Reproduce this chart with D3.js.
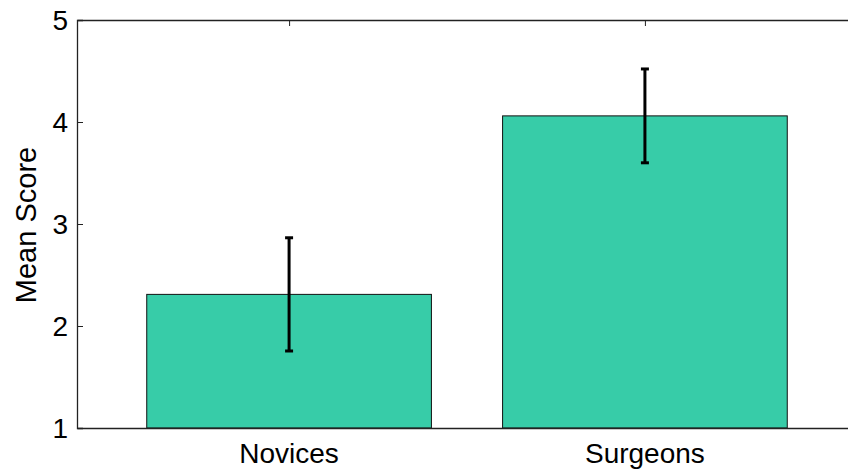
<!DOCTYPE html>
<html>
<head>
<meta charset="utf-8">
<script src="https://cdn.jsdelivr.net/npm/d3@7/dist/d3.min.js"></script>
<style>
  html, body { margin: 0; padding: 0; background: #fff; }
  svg { display: block; }
  text { font-family: "Liberation Sans", Arial, sans-serif; fill: #000; }
</style>
</head>
<body>
<svg id="chart" width="848" height="470"></svg>
<script>
// Mean score per group with error bar half-widths
const groups = ["Novices", "Surgeons"];
const means = [2.31, 4.06];
const errors = [0.555, 0.46];
const yTicks = [1, 2, 3, 4, 5];
const yLabel = "Mean Score";

const width = 848, height = 470;
const margin = { left: 77, top: 20, bottom: 42 };
const plotRight = 857; // axes box runs slightly past the window edge

const svg = d3.select("#chart");

// x positions in category units; limits give the wide outer gaps
const x = d3.scaleLinear().domain([0.404, 2.596]).range([margin.left, plotRight]);
const y = d3.scaleLinear().domain([1, 5]).range([height - margin.bottom, margin.top]);
const barWidth = 0.8;
const axisColor = "#222";

// top line with inward ticks at category centres
const xAxisTop = d3.axisBottom(x).tickValues([1, 2]).tickSize(6).tickFormat("").tickSizeOuter(0);
const gt = svg.append("g").attr("transform", `translate(0,${y(5)})`).call(xAxisTop);
gt.select(".domain").attr("stroke", axisColor).attr("stroke-width", 1.6);
gt.selectAll(".tick line").attr("stroke", axisColor);

const g = svg.append("g");

// bars
g.selectAll("rect.bar")
  .data(means)
  .join("rect")
  .attr("class", "bar")
  .attr("x", (d, i) => x(i + 1 - barWidth / 2))
  .attr("width", (d, i) => x(i + 1 + barWidth / 2) - x(i + 1 - barWidth / 2))
  .attr("y", d => y(d))
  .attr("height", d => y(1) - y(d))
  .attr("fill", "#37cca8")
  .attr("stroke", "#111")
  .attr("stroke-width", 1);

// error bars
const capHalf = 4;
const eb = g.selectAll("g.err")
  .data(means.map((m, i) => ({ m, e: errors[i], i })))
  .join("g")
  .attr("class", "err")
  .attr("stroke", "#000")
  .attr("stroke-width", 3);
eb.append("line")
  .attr("x1", d => x(d.i + 1)).attr("x2", d => x(d.i + 1))
  .attr("y1", d => y(d.m + d.e)).attr("y2", d => y(d.m - d.e));
eb.append("line")
  .attr("x1", d => x(d.i + 1) - capHalf).attr("x2", d => x(d.i + 1) + capHalf)
  .attr("y1", d => y(d.m + d.e)).attr("y2", d => y(d.m + d.e));
eb.append("line")
  .attr("x1", d => x(d.i + 1) - capHalf).attr("x2", d => x(d.i + 1) + capHalf)
  .attr("y1", d => y(d.m - d.e)).attr("y2", d => y(d.m - d.e));

// left axis with inward ticks
const yAxis = d3.axisRight(y).tickValues(yTicks).tickSize(6).tickFormat("");
const gy = svg.append("g").attr("transform", `translate(${margin.left},0)`).call(yAxis);
gy.select(".domain").attr("stroke", axisColor).attr("stroke-width", 1.3);
gy.selectAll(".tick line").attr("stroke", axisColor);

// y tick labels
svg.append("g").selectAll("text")
  .data(yTicks)
  .join("text")
  .attr("x", margin.left - 9)
  .attr("y", d => y(d))
  .attr("dy", "0.36em")
  .attr("text-anchor", "end")
  .attr("font-size", 28)
  .text(d => d);

// bottom axis line
const xAxisBottom = d3.axisTop(x).tickValues([]).tickSizeOuter(0);
const gb = svg.append("g").attr("transform", `translate(0,${y(1)})`).call(xAxisBottom);
gb.select(".domain").attr("stroke", axisColor).attr("stroke-width", 1.6);

// category labels
svg.append("g").selectAll("text")
  .data(groups)
  .join("text")
  .attr("x", (d, i) => x(i + 1))
  .attr("y", y(1) + 35)
  .attr("text-anchor", "middle")
  .attr("font-size", 28)
  .text(d => d);

// y axis title
svg.append("text")
  .attr("transform", `translate(36,${(y(1) + y(5)) / 2 + 1}) rotate(-90)`)
  .attr("text-anchor", "middle")
  .attr("font-size", 29)
  .text(yLabel);
</script>
</body>
</html>
